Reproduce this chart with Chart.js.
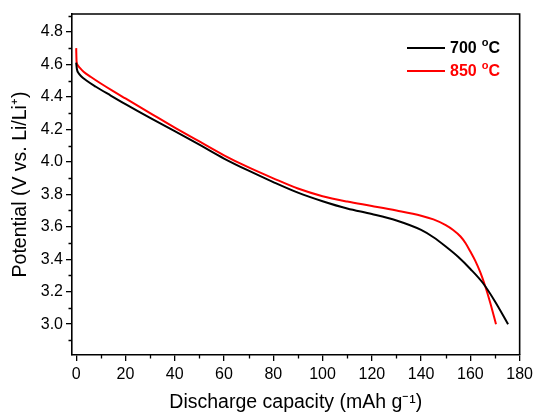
<!DOCTYPE html>
<html>
<head>
<meta charset="utf-8">
<script src="https://cdn.jsdelivr.net/npm/chart.js@4/dist/chart.umd.min.js"></script>
<style>
  html, body { margin: 0; padding: 0; background: #fff; }
  #wrap { width: 537px; height: 412px; }
</style>
</head>
<body>
<div id="wrap"><canvas id="dischargeChart"></canvas></div>
<script>
// discharge curves: [capacity mAh/g, potential V]
const curve700 = [
    [0, 4.61], [0.3, 4.57], [1, 4.545], [2, 4.527], [4, 4.502], [8, 4.462],
    [14, 4.408], [20, 4.355], [30, 4.27], [40, 4.188], [50, 4.105], [60, 4.02],
    [70, 3.945], [80, 3.875], [90, 3.81], [100, 3.757], [110, 3.712], [120, 3.678],
    [130, 3.638], [140, 3.58], [145, 3.535], [150, 3.478], [155, 3.415], [160, 3.34],
    [165, 3.255], [170, 3.14], [175.3, 3.0]
];
const curve850 = [
    [0, 4.70], [0.15, 4.62], [0.5, 4.598], [1.5, 4.578], [3, 4.555], [6, 4.522],
    [10, 4.482], [15, 4.435], [20, 4.39], [30, 4.30], [40, 4.21], [50, 4.125],
    [60, 4.04], [70, 3.965], [80, 3.898], [90, 3.835], [100, 3.788], [110, 3.755],
    [120, 3.728], [130, 3.70], [140, 3.668], [145, 3.645], [150, 3.61], [153, 3.58],
    [156, 3.54], [158, 3.50], [160, 3.447], [162, 3.39], [164, 3.32], [166, 3.235],
    [168, 3.135], [170.4, 3.0]
];
const seriesLabels = ['700', '850'];
const seriesColors = ['#000000', '#ff0000'];

const xTicks = [0, 20, 40, 60, 80, 100, 120, 140, 160, 180];
const xMinorTicks = [10, 30, 50, 70, 90, 110, 130, 150, 170];
const yTicks = [3.0, 3.2, 3.4, 3.6, 3.8, 4.0, 4.2, 4.4, 4.6, 4.8];
const yMinorTicks = [2.9, 3.1, 3.3, 3.5, 3.7, 3.9, 4.1, 4.3, 4.5, 4.7, 4.9];

const FONT = '"Liberation Sans", Arial, sans-serif';
const toPoints = arr => arr.map(p => ({ x: p[0], y: p[1] }));

// frame + minor ticks + legend with superscript "o"
const decorPlugin = {
    id: 'decor',
    afterDraw(chart) {
        const c = chart.ctx;
        const a = chart.chartArea;
        const xs = chart.scales.x, ys = chart.scales.y;
        c.save();
        c.strokeStyle = '#000';
        c.lineWidth = 1.6;
        c.beginPath();
        c.moveTo(a.left, a.top);
        c.lineTo(a.right, a.top);
        c.lineTo(a.right, a.bottom);
        c.stroke();

        c.lineWidth = 1.3;
        c.beginPath();
        xMinorTicks.forEach(v => {
            const px = Math.round(xs.getPixelForValue(v)) + 0.5;
            c.moveTo(px, a.bottom);
            c.lineTo(px, a.bottom + 3.5);
        });
        yMinorTicks.forEach(v => {
            const py = Math.round(ys.getPixelForValue(v)) + 0.5;
            if (py < a.top || py > a.bottom) return;
            c.moveTo(a.left, py);
            c.lineTo(a.left - 3.5, py);
        });
        c.stroke();

        // legend
        const lx0 = 407, lx1 = 445, ly0 = 48, dy = 23;
        seriesLabels.forEach((lab, i) => {
            const y = ly0 + i * dy;
            c.strokeStyle = seriesColors[i];
            c.lineWidth = 2;
            c.beginPath();
            c.moveTo(lx0, y);
            c.lineTo(lx1, y);
            c.stroke();
            c.fillStyle = seriesColors[i];
            c.textBaseline = 'middle';
            c.textAlign = 'left';
            c.font = 'bold 16px ' + FONT;
            let tx = 450;
            c.fillText(lab, tx, y + 1);
            tx += c.measureText(lab).width + 5;
            c.font = 'bold 11px ' + FONT;
            c.fillText('o', tx, y - 5);
            tx += c.measureText('o').width;
            c.font = 'bold 16px ' + FONT;
            c.fillText('C', tx, y + 1);
        });
        c.restore();
    }
};

const datasets = [curve700, curve850].map((curve, i) => ({
    label: seriesLabels[i] + ' °C',
    data: toPoints(curve),
    borderColor: seriesColors[i],
    backgroundColor: 'transparent',
    borderWidth: 2,
    pointRadius: 0,
    cubicInterpolationMode: 'monotone'
}));

new Chart(document.getElementById('dischargeChart').getContext('2d'), {
    type: 'scatter',
    data: { datasets: datasets },
    options: {
        responsive: true,
        maintainAspectRatio: false,
        animation: false,
        showLine: true,
        layout: { padding: { top: 14, right: 15, left: 0, bottom: 0 } },
        plugins: {
            legend: { display: false },
            tooltip: { enabled: false }
        },
        scales: {
            x: {
                type: 'linear',
                min: -1.7,
                max: 180,
                afterBuildTicks: s => { s.ticks = xTicks.map(v => ({ value: v })); },
                afterFit: s => { s.height = 57; },
                border: { display: true, color: '#000', width: 1.6 },
                grid: { drawOnChartArea: false, drawTicks: true, tickLength: 6, color: '#000', lineWidth: 1.3 },
                ticks: {
                    color: '#000',
                    padding: 4,
                    maxRotation: 0,
                    font: { family: FONT, size: 16 },
                    callback: v => String(v)
                },
                title: {
                    display: true,
                    text: 'Discharge capacity (mAh g⁻¹)',
                    color: '#000',
                    padding: { top: 0, bottom: 0 },
                    font: { family: FONT, size: 19.5, lineHeight: 1 }
                }
            },
            y: {
                type: 'linear',
                min: 2.81,
                max: 4.91,
                afterBuildTicks: s => { s.ticks = yTicks.map(v => ({ value: v })); },
                afterFit: s => { s.width = 72; },
                border: { display: true, color: '#000', width: 1.6 },
                grid: { drawOnChartArea: false, drawTicks: true, tickLength: 6, color: '#000', lineWidth: 1.3 },
                ticks: {
                    color: '#000',
                    padding: 3,
                    font: { family: FONT, size: 16 },
                    callback: v => v.toFixed(1)
                },
                title: {
                    display: true,
                    text: 'Potential (V vs. Li/Li⁺)',
                    color: '#000',
                    padding: { top: 11, bottom: 0 },
                    font: { family: FONT, size: 19.5, lineHeight: 1 }
                }
            }
        }
    },
    plugins: [decorPlugin]
});
</script>
</body>
</html>
